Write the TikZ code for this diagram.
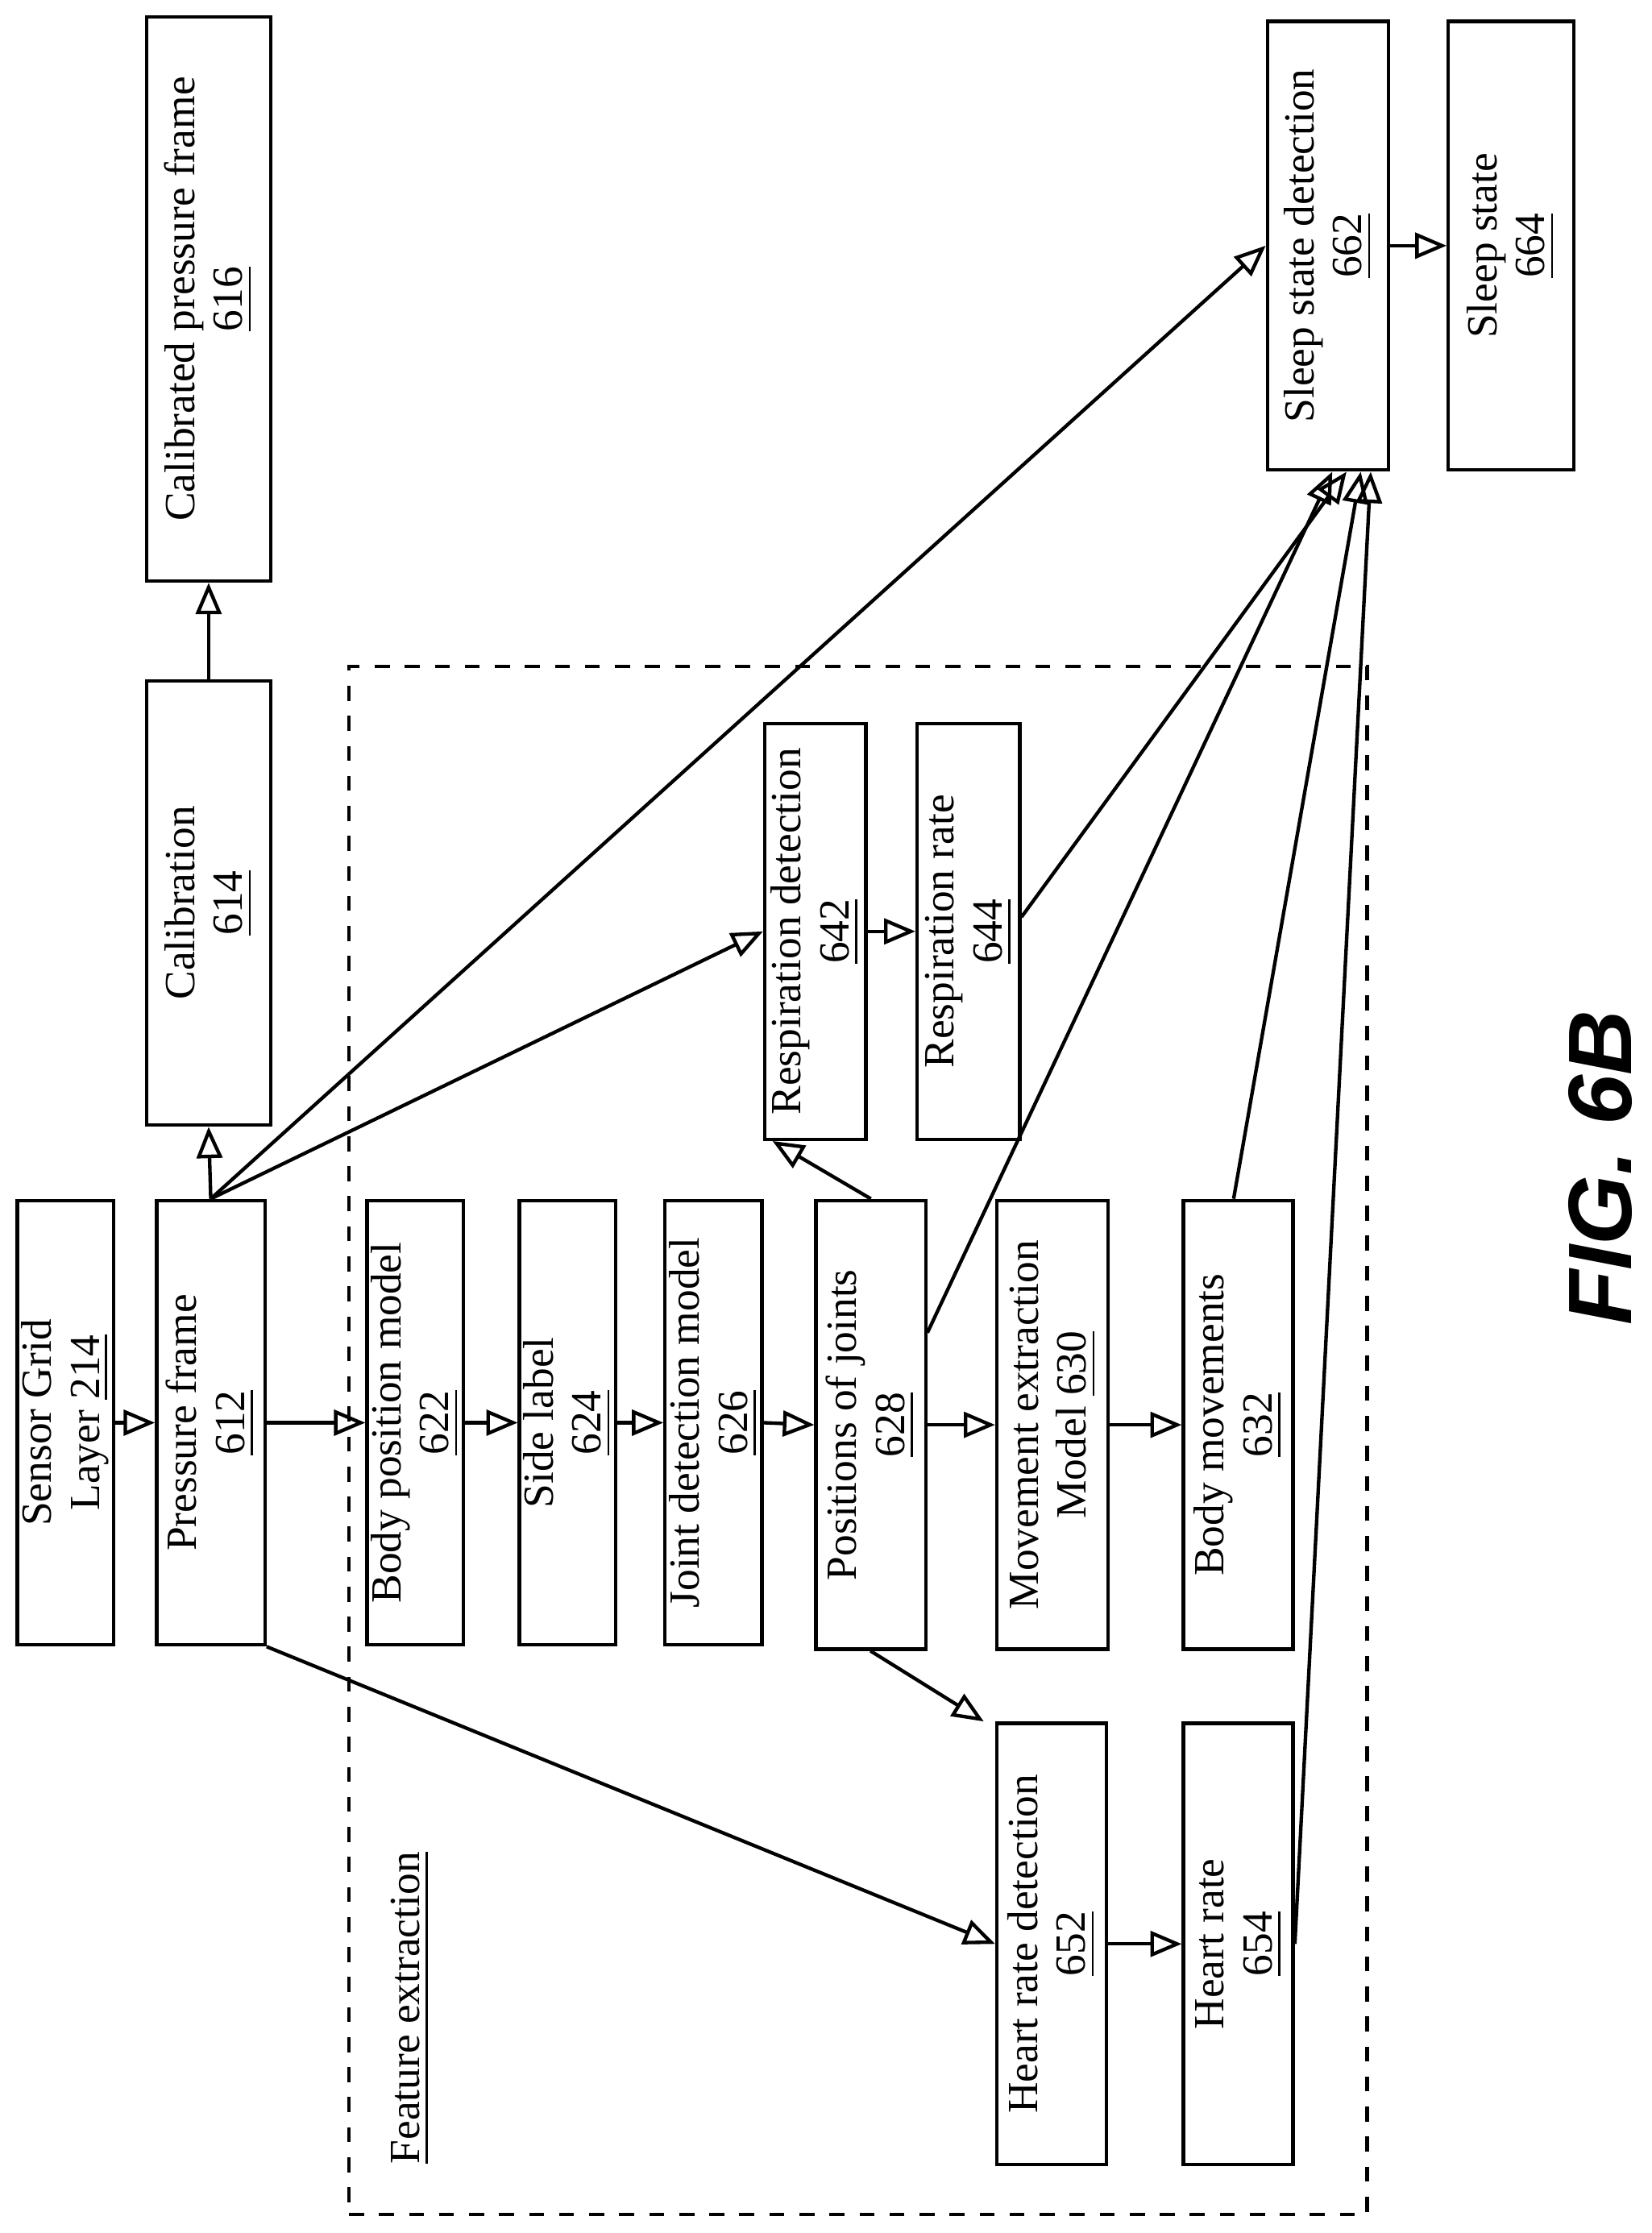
\documentclass[tikz,border=0pt]{standalone}
\usepackage{fontspec}
\setmainfont{Liberation Serif}
\newfontfamily\figfont{Liberation Sans}
\usepackage{graphicx}
\usetikzlibrary{arrows.meta}
\newcommand{\rt}[1]{\rotatebox{90}{\begin{tabular}{@{}c@{}}#1\end{tabular}}}
\newcommand{\bx}[6]{\node[box,minimum width={(#4-#2)*0.1mm},minimum height={(#5-#3)*0.1mm}] (#1) at ({(#2+#4)/2},{(#3+#5)/2}) {\rt{#6}};}
\begin{document}
\begin{tikzpicture}[x=0.1mm,y=-0.1mm,
  box/.style={draw,line width=0.7pt,inner sep=0pt,font=\fontsize{8.6}{9.6}\selectfont},
  ar/.style={line width=0.7pt,-{Triangle[open,length=2.2mm,width=1.8mm]}}]
\useasboundingbox (0,0) rectangle (1160,1568);
\bx{s214}{14}{843}{78}{1155}{Sensor Grid\\Layer \underline{214}}
\bx{p612}{110}{843}{186}{1155}{Pressure frame\\\underline{612}}
\bx{c614}{103}{478}{190}{790}{Calibration\\\underline{614}}
\bx{c616}{103}{12}{190}{408}{Calibrated pressure frame\\\underline{616}}
\bx{b622}{258}{843}{325}{1155}{Body position model\\\underline{622}}
\bx{s624}{365}{843}{432}{1155}{Side label\\\underline{624}}
\bx{j626}{467}{843}{535}{1155}{Joint detection model\\\underline{626}}
\bx{p628}{573}{843}{650}{1158}{Positions of joints\\\underline{628}}
\bx{m630}{700}{843}{778}{1158}{Movement extraction\\Model \underline{630}}
\bx{b632}{831}{843}{908}{1158}{Body movements\\\underline{632}}
\bx{r642}{537}{508}{608}{800}{Respiration detection\\\underline{642}}
\bx{r644}{644}{508}{716}{800}{Respiration rate\\\underline{644}}
\bx{h652}{700}{1210}{777}{1520}{Heart rate detection\\\underline{652}}
\bx{h654}{831}{1210}{908}{1520}{Heart rate\\\underline{654}}
\bx{s662}{890}{15}{975}{330}{Sleep state detection\\\underline{662}}
\bx{s664}{1017}{15}{1105}{330}{Sleep state\\\underline{664}}
\node[draw,dashed,line width=0.7pt,minimum width=71.5mm,minimum height=108.7mm] (fe) at (602.5,1011.5) {};
\node[font=\fontsize{8.6}{9.6}\selectfont] (fel) at (288,1410) {\rotatebox{90}{\underline{Feature extraction}}};
\node[font=\figfont\bfseries\itshape\fontsize{18}{22}\selectfont] (fig) at (1124,820) {\rotatebox{90}{FIG. 6B}};
\draw[ar] (s214.east) -- (p612.west);
\draw[ar] (p612.east) -- (b622.west);
\draw[ar] (b622.east) -- (s624.west);
\draw[ar] (s624.east) -- (j626.west);
\draw[ar] (j626.east) -- (p628.west);
\draw[ar] (p628.east) -- (m630.west);
\draw[ar] (m630.east) -- (b632.west);
\draw[ar] (h652.east) -- (h654.west);
\draw[ar] (r642.east) -- (r644.west);
\draw[ar] (p612.north) -- (c614.south);
\draw[ar] (c614.north) -- (c616.south);
\draw[ar] (p612.north) -- (r642.west);
\draw[ar] (p612.north) -- (s662.west);
\draw[ar] (p612.south east) -- (h652.west);
\draw[ar] ([xshift=-4mm]p628.south east) -- ([xshift=-0.8mm]h652.north west);
\draw[ar] (p628.north) -- ([xshift=-3mm]r642.south);
\draw[ar] ([yshift=-9.4mm]p628.north east) -- ([xshift=0.3mm]s662.south);
\draw[ar] ([yshift=1mm]r644.east) -- ([xshift=1.3mm]s662.south);
\draw[ar] ([xshift=-4.3mm]b632.north east) -- ([xshift=2.3mm]s662.south);
\draw[ar] (h654.east) -- ([xshift=3mm]s662.south);
\draw[ar] (s662.east) -- (s664.west);
\end{tikzpicture}
\end{document}
